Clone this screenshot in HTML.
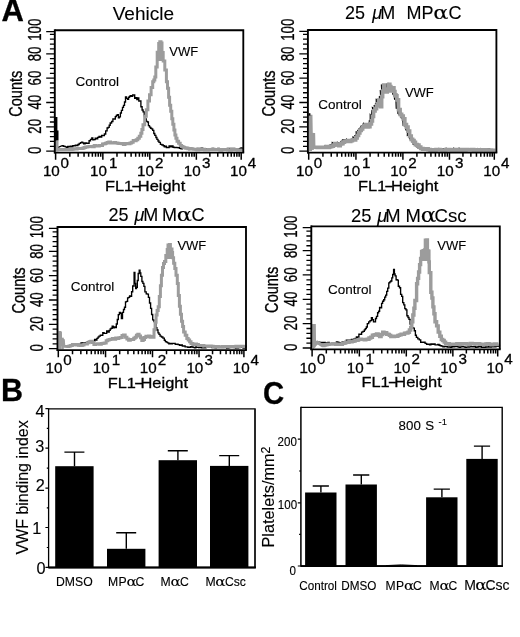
<!DOCTYPE html>
<html lang="en">
<head>
<meta charset="utf-8">
<title>Figure</title>
<style>
html,body{margin:0;padding:0;background:#fff;}
body{width:520px;height:637px;overflow:hidden;}
svg{display:block;}
svg text{font-family:"Liberation Sans", sans-serif;fill:#000;stroke:#000;stroke-width:0.3px;}
svg text.t{stroke-width:0.12px;}
svg text.t2{stroke-width:0.1px;}
</style>
</head>
<body>
<svg width="520" height="637" viewBox="0 0 520 637">
<rect width="520" height="637" fill="#fff"/>
<polyline points="56.0,147.0 58.2,147.4 62.2,145.6 63.2,145.6 63.2,146.2 64.3,146.2 64.3,146.4 65.3,146.4 65.3,146.8 66.6,146.8 66.6,147.2 67.8,147.2 67.8,146.4 69.1,146.4 69.1,146.8 70.4,146.8 70.4,146.2 71.6,146.2 71.6,146.7 72.8,146.7 72.8,145.6 74.1,145.6 74.1,145.9 75.3,145.9 75.3,145.2 76.5,145.2 76.5,145.6 77.9,145.6 77.9,144.5 79.2,144.5 79.2,143.3 80.6,143.3 80.6,142.6 81.6,142.6 81.6,142.2 82.7,142.2 82.7,142.9 83.7,142.9 83.7,143.7 85.1,143.7 85.1,143.0 86.4,143.0 86.4,143.2 87.8,143.2 87.8,143.3 89.1,143.3 89.1,140.7 90.5,140.7 90.5,139.4 91.8,139.4 91.8,137.8 92.8,137.8 92.8,139.8 93.9,139.8 93.9,139.6 95.2,139.6 95.2,138.1 96.5,138.1 96.5,138.7 97.7,138.7 97.7,137.4 99.0,137.4 99.0,136.4 100.3,136.4 100.3,137.0 101.7,137.0 101.7,135.3 103.0,135.3 103.0,135.6 104.4,135.6 104.4,134.0 105.7,134.0 105.7,130.8 107.1,130.8 107.1,128.0 108.1,128.0 108.1,127.4 109.2,127.4 109.2,125.2 110.2,125.2 110.2,123.0 111.6,123.0 111.6,121.5 112.9,121.5 112.9,118.9 114.3,118.9 114.3,119.0 115.3,119.0 115.3,116.6 116.3,116.6 116.3,115.3 117.3,115.3 117.3,114.7 118.4,114.7 118.4,117.7 119.4,117.7 119.4,116.8 120.4,116.8 120.4,113.0 121.4,113.0 121.4,110.4 122.5,110.4 122.5,107.3 123.5,107.3 123.5,105.4 124.5,105.4 124.5,102.0 125.5,102.0 125.5,96.9 126.5,96.9 126.5,98.4 127.6,98.4 127.6,99.4 128.6,99.4 128.6,97.2 129.6,97.2 129.6,96.2 130.6,96.2 130.6,95.7 131.6,95.7 131.6,96.2 132.7,96.2 132.7,94.8 133.7,94.8 133.7,95.0 134.7,95.0 134.7,98.3 135.7,98.3 135.7,97.7 136.8,97.7 136.8,99.5 137.8,99.5 137.8,98.0 138.8,98.0 138.8,101.1 139.8,101.1 139.8,100.8 140.9,100.8 140.9,106.7 142.1,106.7 142.1,110.0 143.1,110.0 143.1,111.8 144.2,111.8 144.2,115.9 145.3,115.9 145.3,118.9 146.3,118.9 146.3,121.4 147.4,121.4 147.4,122.0 148.4,122.0 148.4,125.6 149.5,125.6 149.5,127.1 150.6,127.1 150.6,128.2 151.6,128.2 151.6,128.8 152.7,128.8 152.7,130.4 153.8,130.4 153.8,133.5 154.8,133.5 154.8,135.4 155.9,135.4 155.9,137.5 156.9,137.5 156.9,139.3 158.0,139.3 158.0,141.0 159.0,141.0 159.0,142.3 160.4,142.3 160.4,144.3 161.9,144.3 161.9,145.0 163.3,145.0 163.3,145.7 164.3,145.7 164.3,146.9 165.4,146.9 165.4,146.1 166.4,146.1 166.4,147.5 167.7,147.5 167.7,147.5 169.1,147.5 169.1,146.0 170.4,146.0 170.4,146.9 171.7,146.9 171.7,145.9 173.0,145.9 173.0,147.2 174.3,147.2 174.3,147.6 175.7,147.6 175.7,147.5 177.0,147.5 177.0,147.6 178.3,147.6 178.3,147.7 179.7,147.7 179.7,148.4 181.0,148.4 181.0,148.7 182.3,148.7 182.3,148.1 183.6,148.1 183.6,148.1 184.9,148.1 184.9,148.6 186.2,148.6 186.2,148.2 187.4,148.2 187.4,148.3 188.7,148.3 188.7,149.6 190.0,149.6 190.0,149.2 191.4,149.2 191.4,149.2 192.9,149.2 192.9,149.4 194.3,149.4 194.3,149.5 195.7,149.5 195.7,149.4 197.1,149.4 197.1,148.4 198.6,148.4 198.6,148.3 200.0,148.3 200.0,148.7 201.3,148.7 201.3,148.2 202.7,148.2 202.7,149.0 204.0,149.0 204.0,149.3 205.4,149.3 205.4,149.3 206.8,149.3 206.8,149.0 208.1,149.0 208.1,149.1 209.5,149.1 209.5,149.4 210.9,149.4 210.9,148.8 212.2,148.8 212.2,148.4 213.6,148.4 213.6,148.7 215.0,148.7 215.0,148.7 216.4,148.7 216.4,149.3 217.8,149.3 217.8,148.5 219.2,148.5 219.2,149.6 220.6,149.6 220.6,149.9 222.0,149.9 222.0,149.7 223.3,149.7 223.3,149.3 224.7,149.3 224.7,149.6 226.0,149.6 226.0,148.7 227.3,148.7 227.3,148.3 228.7,148.3 228.7,149.3 230.0,149.3 230.0,148.5 231.2,148.5 231.2,148.5 232.4,148.5 232.4,148.7 233.6,148.7 233.6,148.4 234.8,148.4 234.8,149.3 236.0,149.3 236.0,149.4 237.3,149.4 237.3,149.4 238.7,149.4 238.7,148.8 240.0,148.8 240.0,148.3 241.0,148.3 241.0,147.9 242.0,147.9 242.0,148.4 243.0,148.4 243.0,149.2" fill="none" stroke="#000" stroke-width="1.35" stroke-linejoin="miter"/>
<polyline points="56.0,140.0 56.6,149.6 70.4,149.5 72.1,149.5 72.1,149.3 73.8,149.3 73.8,148.8 75.5,148.8 75.5,149.1 77.2,149.1 77.2,148.5 78.9,148.5 78.9,148.4 80.6,148.4 80.6,148.4 82.3,148.4 82.3,148.3 84.0,148.3 84.0,147.4 85.7,147.4 85.7,147.0 87.4,147.0 87.4,146.7 89.1,146.7 89.1,146.5 90.8,146.5 90.8,146.4 92.5,146.4 92.5,146.7 94.2,146.7 94.2,145.6 95.9,145.6 95.9,146.1 97.6,146.1 97.6,146.0 99.3,146.0 99.3,145.5 101.0,145.5 101.0,145.4 102.5,145.4 102.5,144.1 104.0,144.1 104.0,143.8 105.6,143.8 105.6,143.3 107.1,143.3 107.1,142.4 108.8,142.4 108.8,141.9 110.5,141.9 110.5,143.1 112.2,143.1 112.2,142.9 113.9,142.9 113.9,142.6 115.6,142.6 115.6,142.9 117.3,142.9 117.3,143.2 118.8,143.2 118.8,143.4 120.4,143.4 120.4,143.5 122.0,143.5 122.0,143.7 123.5,143.7 123.5,144.5 125.1,144.5 125.1,143.4 126.7,143.4 126.7,143.4 128.4,143.4 128.4,143.7 130.0,143.7 130.0,143.1 131.6,143.1 131.6,142.2 133.2,142.2 133.2,140.6 134.7,140.6 134.7,140.7 136.2,140.7 136.2,139.7 137.8,139.7 137.8,138.3 139.3,138.3 139.3,136.2 140.8,136.2 140.8,133.2 141.9,133.2 141.9,129.5 143.0,129.5 143.0,124.8 144.7,124.8 144.7,116.3 146.3,116.3 146.3,109.8 147.9,109.8 147.9,101.0 149.5,101.0 149.5,94.7 151.1,94.7 151.1,87.6 152.7,87.6 152.7,81.7 153.8,81.7 153.8,79.9 154.8,79.9 154.8,77.1 155.8,77.1 155.8,67.1 157.2,67.1 157.2,52.3 158.7,52.3 158.7,43.6 159.8,43.6 159.8,41.8 161.0,41.8 161.0,43.1 162.0,43.1 162.0,52.4 163.2,52.4 163.2,61.1 164.8,61.1 164.8,69.9 166.4,69.9 166.4,81.8 167.5,81.8 167.5,88.3 168.6,88.3 168.6,97.3 169.6,97.3 169.6,105.3 170.7,105.3 170.7,111.3 171.8,111.3 171.8,118.8 172.8,118.8 172.8,124.3 173.9,124.3 173.9,130.1 174.9,130.1 174.9,135.1 175.9,135.1 175.9,138.2 177.0,138.2 177.0,141.2 178.6,141.2 178.6,143.3 180.2,143.3 180.2,145.4 181.6,145.4 181.6,146.6 183.0,146.6 183.0,147.3 184.4,147.3 184.4,147.8 186.1,147.8 186.1,147.9 187.8,147.9 187.8,148.7 189.5,148.7 189.5,148.6 191.2,148.6 191.2,148.8 192.9,148.8 192.9,149.3 194.8,149.3 194.8,149.2 196.8,149.2 196.8,149.8 198.7,149.8 198.7,149.4 200.6,149.4 200.6,149.4 202.5,149.4 202.5,149.2 204.5,149.2 204.5,149.7 206.4,149.7 206.4,149.8 208.3,149.8 208.3,149.4 210.2,149.4 210.2,149.5 212.2,149.5 212.2,149.2 214.1,149.2 214.1,149.5 216.0,149.5 216.0,149.4 217.9,149.4 217.9,149.6 219.9,149.6 219.9,149.9 221.8,149.9 221.8,149.6 223.7,149.6 223.7,149.5 225.7,149.5 225.7,149.6 227.6,149.6 227.6,149.8 229.5,149.8 229.5,150.0 231.4,150.0 231.4,149.5 233.4,149.5 233.4,149.7 235.3,149.7 235.3,149.5 237.2,149.5 237.2,149.9 239.1,149.9 239.1,150.0 241.1,150.0 241.1,149.9 243.0,149.9 243.0,149.9" fill="none" stroke="#9c9c9c" stroke-width="3.0" stroke-linejoin="miter"/>
<polygon points="157.3,61 158,50 158.8,43.2 161,43.2 162,52 163.4,61" fill="#9c9c9c"/>
<rect x="54.2" y="117" width="3.2" height="24" fill="#000"/>
<rect x="54.2" y="130.5" width="4.3" height="10" fill="#000"/>
<rect x="55.6" y="140.4" width="2.9" height="11" fill="#9c9c9c"/>
<path d="M54.80 30.20H243.30V152.50" fill="none" stroke="#000" stroke-width="1.85"/>
<path d="M54.80 29.30V153.35" fill="none" stroke="#000" stroke-width="1.9"/>
<path d="M53.90 152.50H244.20" fill="none" stroke="#000" stroke-width="1.75"/>
<path d="M46.2 151.20H54.8M49.9 146.33H54.8M49.9 141.46H54.8M49.9 136.59H54.8M49.9 131.72H54.8M46.2 126.85H54.8M49.9 121.98H54.8M49.9 117.11H54.8M49.9 112.24H54.8M49.9 107.37H54.8M46.2 102.50H54.8M49.9 97.63H54.8M49.9 92.76H54.8M49.9 87.89H54.8M49.9 83.02H54.8M46.2 78.15H54.8M49.9 73.28H54.8M49.9 68.41H54.8M49.9 63.54H54.8M49.9 58.67H54.8M46.2 53.80H54.8M49.9 48.93H54.8M49.9 44.06H54.8M49.9 39.19H54.8M49.9 34.32H54.8M46.2 31.60H54.8" stroke="#000" stroke-width="1.3" fill="none"/>
<path d="M55.60 152.5V159.7M69.82 152.5V156.7M78.14 152.5V156.7M84.05 152.5V156.7M88.63 152.5V156.7M92.37 152.5V156.7M95.53 152.5V156.7M98.27 152.5V156.7M100.69 152.5V156.7M102.85 152.5V159.7M116.98 152.5V156.7M125.25 152.5V156.7M131.12 152.5V156.7M135.67 152.5V156.7M139.38 152.5V156.7M142.53 152.5V156.7M145.25 152.5V156.7M147.65 152.5V156.7M149.80 152.5V159.7M163.81 152.5V156.7M172.01 152.5V156.7M177.83 152.5V156.7M182.34 152.5V156.7M186.02 152.5V156.7M189.14 152.5V156.7M191.84 152.5V156.7M194.22 152.5V156.7M196.35 152.5V159.7M209.85 152.5V156.7M217.75 152.5V156.7M223.35 152.5V156.7M227.70 152.5V156.7M231.25 152.5V156.7M234.25 152.5V156.7M236.85 152.5V156.7M239.15 152.5V156.7M241.20 152.5V159.7" stroke="#000" stroke-width="1.5" fill="none"/>
<text transform="translate(40.7,150.4) rotate(-90) scale(0.73,1)" text-anchor="middle" font-size="18.2">0</text>
<text transform="translate(40.7,126.3) rotate(-90) scale(0.73,1)" text-anchor="middle" font-size="18.2">20</text>
<text transform="translate(40.7,102.2) rotate(-90) scale(0.73,1)" text-anchor="middle" font-size="18.2">40</text>
<text transform="translate(40.7,78.0) rotate(-90) scale(0.73,1)" text-anchor="middle" font-size="18.2">60</text>
<text transform="translate(40.7,53.9) rotate(-90) scale(0.73,1)" text-anchor="middle" font-size="18.2">80</text>
<text transform="translate(40.7,29.8) rotate(-90) scale(0.73,1)" text-anchor="middle" font-size="18.2">100</text>
<text transform="translate(21.8,93.7) rotate(-90) scale(0.82,1)" text-anchor="middle" font-size="17.8">Counts</text>
<text y="175.7" font-size="15.2"><tspan x="42.9">10</tspan><tspan x="60.6" y="167.5">0</tspan></text>
<text y="175.7" font-size="15.2"><tspan x="90.1">10</tspan><tspan x="109.0" y="167.5">1</tspan></text>
<text y="175.7" font-size="15.2"><tspan x="137.1">10</tspan><tspan x="155.1" y="167.5">2</tspan></text>
<text y="175.7" font-size="15.2"><tspan x="183.7">10</tspan><tspan x="201.9" y="167.5">3</tspan></text>
<text y="175.7" font-size="15.2"><tspan x="230.1">10</tspan><tspan x="247.8" y="167.5">4</tspan></text>
<text y="190.5" font-size="15"><tspan x="105.0" textLength="28.17" lengthAdjust="spacingAndGlyphs">FL1</tspan><tspan x="131.2" textLength="9.24" lengthAdjust="spacingAndGlyphs">-</tspan><tspan x="137.8" textLength="47.48" lengthAdjust="spacingAndGlyphs">Height</tspan></text>
<text x="75.5" y="86.2" font-size="13.5" class="t">Control</text>
<text x="169.3" y="56.3" font-size="13" class="t">VWF</text>
<text class="t2" x="112.7" y="19.5" font-size="19">Vehicle</text>
<polyline points="322.5,147.2 324.2,147.6 324.2,146.7 325.0,145.9 325.9,147.2 327.4,146.2 326.9,145.9 328.5,146.5 328.0,145.4 329.6,146.7 330.1,145.0 331.5,145.0 331.4,144.0 332.1,145.3 332.3,142.6 334.4,143.8 333.8,145.2 335.4,144.7 335.0,145.0 336.9,145.0 337.1,144.7 337.9,144.5 337.7,142.6 339.2,143.6 338.9,143.6 340.6,142.9 341.1,141.5 342.1,141.5 342.5,140.0 344.3,139.9 344.1,141.2 344.9,141.1 345.2,140.4 346.4,139.4 346.6,141.8 348.3,141.4 349.0,140.9 350.1,139.8 350.3,139.9 351.6,139.9 352.3,140.2 353.0,140.3 353.1,137.2 355.1,138.2 354.8,135.7 356.4,134.6 356.2,131.8 357.3,131.7 357.9,130.7 358.8,129.0 359.6,128.6 360.4,128.0 360.6,127.1 361.8,126.4 361.4,126.1 362.7,125.3 363.5,123.4 365.0,124.9 364.9,126.9 365.9,126.3 365.9,126.8 367.6,126.1 368.3,124.0 369.8,123.3 369.3,120.9 370.3,120.1 370.3,115.3 371.3,116.9 371.9,110.6 372.9,110.1 372.5,107.7 374.7,108.7 374.3,105.6 375.7,105.5 375.6,103.9 376.4,103.8 376.3,99.5 377.8,99.9 377.3,104.1 378.6,103.5 378.0,106.3 379.3,106.5 379.5,96.6 380.7,96.6 380.4,90.8 381.8,91.2 381.5,85.1 383.0,84.9 383.1,89.3 383.6,88.5 383.3,91.9 385.6,91.3 385.3,89.8 386.9,88.9 387.0,83.9 387.9,83.6 387.8,86.5 388.8,86.4 388.2,89.8 389.7,90.7 389.5,88.7 390.9,87.6 390.8,86.8 391.4,86.6 391.6,90.4 392.5,90.2 392.8,94.1 393.9,94.5 393.5,96.1 394.3,95.2 394.6,99.2 396.0,100.0 396.3,108.2 398.1,108.3 398.0,113.5 399.6,114.6 399.8,115.4 401.4,115.8 401.0,117.7 402.8,118.4 403.2,124.9 404.4,123.8 404.7,125.7 405.5,126.7 406.0,129.9 407.6,131.3 407.4,135.4 408.8,135.2 409.6,138.6 411.0,139.6 410.6,139.7 412.4,140.1 411.8,141.6 413.8,141.9 413.1,144.0 414.7,144.3 415.0,144.3 417.1,145.2 416.3,146.7 418.4,147.4 418.9,147.5 420.2,147.4 420.9,148.2 422.4,148.6 422.4,148.8 424.4,147.9 424.4,148.1 426.0,148.1 425.8,149.3 427.9,149.0 428.2,149.7 429.5,149.1 429.9,150.0 432.3,149.3 431.5,150.2 433.9,149.8 434.1,149.2 435.9,149.7 435.8,149.0 438.2,148.6 437.7,150.1 439.4,150.1 440.1,149.5 441.6,150.1 442.3,149.2 443.8,149.9 443.8,148.8 445.5,149.2 446.1,148.4 447.5,149.8 448.1,149.7 449.3,149.8 450.3,150.7 452.0,149.0 452.1,149.2 453.9,150.5 454.0,148.4 455.5,149.8 455.4,150.0 457.6,149.2 457.8,148.9 459.3,149.5 459.3,148.4 461.8,149.7 462.1,149.1 463.6,149.5 463.8,149.1 466.1,148.9 465.2,149.8 467.3,149.6 467.6,150.2 469.7,149.7 469.4,149.3 471.3,149.7 471.6,149.0 473.3,149.5 473.8,149.2 475.8,150.1 475.1,149.7 477.1,148.7 477.6,149.3 479.9,149.7 479.3,149.9 481.0,149.8 481.1,148.7 483.9,149.6 483.2,149.0 485.9,150.0 485.8,149.0 487.6,149.4 487.2,149.2 489.5,149.2 489.3,149.1 491.7,150.0 491.7,149.7 493.8,149.8 493.5,149.9" fill="none" stroke="#000" stroke-width="1.35" stroke-linejoin="miter"/>
<polyline points="310.6,114.8 311.2,149.0 313.3,133.0 313.6,147.0 316.3,147.4 324.5,147.3 326.0,147.3 326.0,146.5 327.6,146.5 327.6,147.4 329.1,147.4 329.1,146.9 330.6,146.9 330.6,146.4 332.0,146.4 332.0,146.1 333.3,146.1 333.3,145.2 334.7,145.2 334.7,143.6 336.1,143.6 336.1,144.8 337.4,144.8 337.4,144.7 338.8,144.7 338.8,145.6 340.2,145.6 340.2,143.9 341.5,143.9 341.5,143.7 342.9,143.7 342.9,142.1 344.4,142.1 344.4,141.3 345.9,141.3 345.9,141.1 347.5,141.1 347.5,140.7 349.0,140.7 349.0,141.5 350.7,141.5 350.7,140.6 352.4,140.6 352.4,139.9 354.1,139.9 354.1,140.0 355.6,140.0 355.6,137.9 357.1,137.9 357.1,135.5 358.5,135.5 358.5,132.9 359.8,132.9 359.8,130.3 361.2,130.3 361.2,129.0 362.6,129.0 362.6,127.0 363.9,127.0 363.9,125.8 365.3,125.8 365.3,124.6 366.9,124.6 366.9,126.9 368.4,126.9 368.4,126.7 369.9,126.7 369.9,123.9 371.4,123.9 371.4,120.9 372.4,120.9 372.4,116.5 373.5,116.5 373.5,110.9 375.0,110.9 375.0,108.6 376.5,108.6 376.5,105.6 377.6,105.6 377.6,103.9 378.6,103.9 378.6,100.0 379.6,100.0 379.6,103.8 380.6,103.8 380.6,106.7 381.6,106.7 381.6,96.6 382.6,96.6 382.6,91.1 383.7,91.1 383.7,85.0 384.7,85.0 384.7,89.0 385.7,89.0 385.7,91.8 387.2,91.8 387.2,89.9 388.8,89.9 388.8,84.3 389.8,84.3 389.8,86.5 390.8,86.5 390.8,90.9 391.9,90.9 391.9,88.9 392.9,88.9 392.9,87.8 393.9,87.8 393.9,91.5 394.9,91.5 394.9,94.8 395.9,94.8 395.9,95.9 396.9,95.9 396.9,99.9 398.5,99.9 398.5,109.6 400.1,109.6 400.1,114.3 401.6,114.3 401.6,116.0 403.2,116.0 403.2,118.8 404.8,118.8 404.8,124.6 406.4,124.6 406.4,127.1 408.0,127.1 408.0,131.1 409.6,131.1 409.6,136.0 411.2,136.0 411.2,139.4 412.6,139.4 412.6,140.6 414.0,140.6 414.0,142.4 415.4,142.4 415.4,144.6 417.2,144.6 417.2,145.1 418.9,145.1 418.9,147.1 420.7,147.1 420.7,148.5 422.6,148.5 422.6,149.1 424.4,149.1 424.4,149.1 426.2,149.1 426.2,148.9 428.1,148.9 428.1,149.7 430.1,149.7 430.1,150.1 432.1,150.1 432.1,149.8 434.0,149.8 434.0,150.2 436.0,150.2 436.0,149.5 438.0,149.5 438.0,149.7 440.0,149.7 440.0,150.0 442.0,150.0 442.0,150.1 444.0,150.1 444.0,150.3 445.9,150.3 445.9,149.6 447.9,149.6 447.9,149.7 449.9,149.7 449.9,149.9 451.9,149.9 451.9,150.3 453.9,150.3 453.9,150.2 455.9,150.2 455.9,149.6 457.8,149.6 457.8,150.3 459.8,150.3 459.8,150.2 461.8,150.2 461.8,149.7 463.8,149.7 463.8,150.3 465.8,150.3 465.8,149.6 467.7,149.6 467.7,149.9 469.7,149.9 469.7,150.0 471.7,150.0 471.7,149.7 473.7,149.7 473.7,150.2 475.7,150.2 475.7,150.3 477.7,150.3 477.7,149.9 479.6,149.9 479.6,150.3 481.6,150.3 481.6,149.9 483.6,149.9 483.6,149.8 485.6,149.8 485.6,150.2 487.6,150.2 487.6,150.2 489.6,150.2 489.6,150.0 491.5,150.0 491.5,150.3 493.5,150.3 493.5,150.3 495.5,150.3 495.5,150.3" fill="none" stroke="#9c9c9c" stroke-width="3.7" stroke-linejoin="miter"/>
<rect x="308.6" y="113.2" width="1.8" height="3" fill="#000"/>
<rect x="309" y="115.6" width="3" height="35.5" fill="#9c9c9c"/>
<rect x="311.9" y="132.9" width="2" height="17" fill="#9c9c9c"/>
<path d="M307.90 30.00H496.40V152.50" fill="none" stroke="#000" stroke-width="1.85"/>
<path d="M307.90 29.10V153.35" fill="none" stroke="#000" stroke-width="1.9"/>
<path d="M307.00 152.50H497.30" fill="none" stroke="#000" stroke-width="1.75"/>
<path d="M299.3 151.20H307.9M303.0 146.33H307.9M303.0 141.46H307.9M303.0 136.59H307.9M303.0 131.72H307.9M299.3 126.85H307.9M303.0 121.98H307.9M303.0 117.11H307.9M303.0 112.24H307.9M303.0 107.37H307.9M299.3 102.50H307.9M303.0 97.63H307.9M303.0 92.76H307.9M303.0 87.89H307.9M303.0 83.02H307.9M299.3 78.15H307.9M303.0 73.28H307.9M303.0 68.41H307.9M303.0 63.54H307.9M303.0 58.67H307.9M299.3 53.80H307.9M303.0 48.93H307.9M303.0 44.06H307.9M303.0 39.19H307.9M303.0 34.32H307.9M299.3 31.40H307.9" stroke="#000" stroke-width="1.3" fill="none"/>
<path d="M308.70 152.5V159.7M322.92 152.5V156.7M331.24 152.5V156.7M337.15 152.5V156.7M341.73 152.5V156.7M345.47 152.5V156.7M348.63 152.5V156.7M351.37 152.5V156.7M353.79 152.5V156.7M355.95 152.5V159.7M370.08 152.5V156.7M378.35 152.5V156.7M384.22 152.5V156.7M388.77 152.5V156.7M392.48 152.5V156.7M395.63 152.5V156.7M398.35 152.5V156.7M400.75 152.5V156.7M402.90 152.5V159.7M416.91 152.5V156.7M425.11 152.5V156.7M430.93 152.5V156.7M435.44 152.5V156.7M439.12 152.5V156.7M442.24 152.5V156.7M444.94 152.5V156.7M447.32 152.5V156.7M449.45 152.5V159.7M462.95 152.5V156.7M470.85 152.5V156.7M476.45 152.5V156.7M480.80 152.5V156.7M484.35 152.5V156.7M487.35 152.5V156.7M489.95 152.5V156.7M492.25 152.5V156.7M494.30 152.5V159.7" stroke="#000" stroke-width="1.5" fill="none"/>
<text transform="translate(293.8,150.4) rotate(-90) scale(0.73,1)" text-anchor="middle" font-size="18.2">0</text>
<text transform="translate(293.8,126.3) rotate(-90) scale(0.73,1)" text-anchor="middle" font-size="18.2">20</text>
<text transform="translate(293.8,102.2) rotate(-90) scale(0.73,1)" text-anchor="middle" font-size="18.2">40</text>
<text transform="translate(293.8,78.0) rotate(-90) scale(0.73,1)" text-anchor="middle" font-size="18.2">60</text>
<text transform="translate(293.8,53.9) rotate(-90) scale(0.73,1)" text-anchor="middle" font-size="18.2">80</text>
<text transform="translate(293.8,29.8) rotate(-90) scale(0.73,1)" text-anchor="middle" font-size="18.2">100</text>
<text transform="translate(274.9,93.5) rotate(-90) scale(0.82,1)" text-anchor="middle" font-size="17.8">Counts</text>
<text y="175.7" font-size="15.2"><tspan x="296.0">10</tspan><tspan x="313.7" y="167.5">0</tspan></text>
<text y="175.7" font-size="15.2"><tspan x="343.2">10</tspan><tspan x="362.1" y="167.5">1</tspan></text>
<text y="175.7" font-size="15.2"><tspan x="390.2">10</tspan><tspan x="408.2" y="167.5">2</tspan></text>
<text y="175.7" font-size="15.2"><tspan x="436.8">10</tspan><tspan x="454.9" y="167.5">3</tspan></text>
<text y="175.7" font-size="15.2"><tspan x="483.2">10</tspan><tspan x="500.9" y="167.5">4</tspan></text>
<text y="190.5" font-size="15"><tspan x="358.1" textLength="28.17" lengthAdjust="spacingAndGlyphs">FL1</tspan><tspan x="384.3" textLength="9.24" lengthAdjust="spacingAndGlyphs">-</tspan><tspan x="390.9" textLength="47.48" lengthAdjust="spacingAndGlyphs">Height</tspan></text>
<text x="318.2" y="109.1" font-size="13.5" class="t">Control</text>
<text x="404.9" y="96.9" font-size="13" class="t">VWF</text>
<text y="18.90" font-size="18.00" class="t2"><tspan x="345.00">25</tspan> <tspan x="372.30" font-style="italic">μ</tspan><tspan x="380.20">M</tspan> <tspan x="406.40">M</tspan><tspan x="421.60">P</tspan><tspan x="433.17" font-size="19.40" textLength="15.19" lengthAdjust="spacingAndGlyphs" style="font-family:'DejaVu Serif','DejaVu Sans',serif;stroke-width:0.12px">α</tspan><tspan x="448.60">C</tspan></text>
<polyline points="77.0,345.6 78.2,345.6 78.2,345.0 79.4,345.0 79.4,344.9 80.6,344.9 80.6,343.1 82.1,343.1 82.1,342.7 83.5,342.7 83.5,342.9 85.0,342.9 85.0,342.6 86.4,342.6 86.4,342.4 87.9,342.4 87.9,341.6 89.3,341.6 89.3,341.5 90.8,341.5 90.8,341.1 92.1,341.1 92.1,341.4 93.3,341.4 93.3,341.3 94.6,341.3 94.6,339.5 95.9,339.5 95.9,340.1 96.9,340.1 96.9,338.4 98.0,338.4 98.0,337.1 99.0,337.1 99.0,336.1 100.3,336.1 100.3,335.2 101.5,335.2 101.5,335.2 102.8,335.2 102.8,332.7 104.1,332.7 104.1,333.3 105.4,333.3 105.4,333.3 106.7,333.3 106.7,331.0 107.9,331.0 107.9,332.1 109.2,332.1 109.2,330.4 110.2,330.4 110.2,328.9 111.2,328.9 111.2,328.2 112.2,328.2 112.2,326.1 113.2,326.1 113.2,327.8 114.3,327.8 114.3,327.0 115.3,327.0 115.3,327.6 116.3,327.6 116.3,324.0 117.3,324.0 117.3,319.5 118.3,319.5 118.3,314.6 119.4,314.6 119.4,312.3 120.4,312.3 120.4,313.2 121.4,313.2 121.4,318.5 122.5,318.5 122.5,312.4 123.5,312.4 123.5,309.5 124.5,309.5 124.5,307.2 125.5,307.2 125.5,301.9 126.5,301.9 126.5,301.3 127.6,301.3 127.6,297.9 128.6,297.9 128.6,297.4 129.6,297.4 129.6,296.0 130.6,296.0 130.6,296.3 131.6,296.3 131.6,291.7 132.7,291.7 132.7,286.0 134.1,286.0 134.1,272.5 134.9,272.5 134.9,283.3 135.7,283.3 135.7,288.6 136.5,288.6 136.5,287.2 137.3,287.2 137.3,280.5 138.2,280.5 138.2,273.5 139.2,273.5 139.2,270.1 140.0,270.1 140.0,272.8 140.8,272.8 140.8,276.4 141.9,276.4 141.9,281.5 142.9,281.5 142.9,283.3 143.9,283.3 143.9,286.4 144.9,286.4 144.9,291.8 146.2,291.8 146.2,293.9 147.4,293.9 147.4,294.1 148.4,294.1 148.4,297.4 149.5,297.4 149.5,303.0 150.6,303.0 150.6,308.3 151.6,308.3 151.6,314.5 152.7,314.5 152.7,319.9 153.8,319.9 153.8,321.5 154.8,321.5 154.8,323.0 155.9,323.0 155.9,327.6 156.9,327.6 156.9,330.0 158.0,330.0 158.0,332.8 159.0,332.8 159.0,334.4 160.1,334.4 160.1,336.1 161.5,336.1 161.5,337.0 162.9,337.0 162.9,338.1 164.3,338.1 164.3,340.2 165.4,340.2 165.4,341.6 166.4,341.6 166.4,342.1 167.5,342.1 167.5,342.8 168.8,342.8 168.8,343.8 170.0,343.8 170.0,343.3 171.3,343.3 171.3,343.7 172.5,343.7 172.5,343.4 173.8,343.4 173.8,343.4 175.2,343.4 175.2,344.4 176.7,344.4 176.7,344.2 178.1,344.2 178.1,344.6 179.5,344.6 179.5,345.4 180.9,345.4 180.9,344.9 182.3,344.9 182.3,346.0 183.7,346.0 183.7,345.9 185.1,345.9 185.1,346.8 186.5,346.8 186.5,346.9 187.8,346.9 187.8,347.2 189.2,347.2 189.2,347.2 190.5,347.2 190.5,346.6 191.8,346.6 191.8,347.0 193.1,347.0 193.1,347.4 194.4,347.4 194.4,347.8 195.8,347.8 195.8,346.9 197.1,346.9 197.1,347.4 198.6,347.4 198.6,347.6 200.1,347.6 200.1,347.2 201.5,347.2 201.5,347.8 203.0,347.8 203.0,347.8 204.5,347.8 204.5,347.7 206.0,347.7 206.0,347.1 207.5,347.1 207.5,347.4 209.0,347.4 209.0,347.3 210.4,347.3 210.4,347.4 211.9,347.4 211.9,347.5 213.4,347.5 213.4,347.0 214.9,347.0 214.9,347.9 216.4,347.9 216.4,347.4 217.8,347.4 217.8,347.5 219.3,347.5 219.3,347.0 220.8,347.0 220.8,347.5 222.3,347.5 222.3,347.6 223.8,347.6 223.8,347.5 225.3,347.5 225.3,347.0 226.7,347.0 226.7,348.0 228.2,348.0 228.2,347.9 229.7,347.9 229.7,347.2 231.2,347.2 231.2,347.0 232.7,347.0 232.7,347.2 234.1,347.2 234.1,347.5 235.6,347.5 235.6,348.0 237.1,348.0 237.1,348.0 238.6,348.0 238.6,347.1 240.1,347.1 240.1,347.0 241.6,347.0 241.6,347.2 243.0,347.2 243.0,348.0 244.5,348.0 244.5,347.0 246.0,347.0 246.0,347.5" fill="none" stroke="#000" stroke-width="1.35" stroke-linejoin="miter"/>
<polyline points="60.4,332.0 60.8,346.0 63.3,339.3 63.8,346.2 67.3,346.5 69.0,346.5 69.0,346.0 70.7,346.0 70.7,345.4 72.4,345.4 72.4,344.4 74.0,344.4 74.0,344.5 75.7,344.5 75.7,345.0 77.3,345.0 77.3,344.6 79.0,344.6 79.0,345.2 80.6,345.2 80.6,345.6 82.3,345.6 82.3,345.1 84.0,345.1 84.0,344.1 85.7,344.1 85.7,343.9 87.4,343.9 87.4,342.7 89.1,342.7 89.1,341.8 90.8,341.8 90.8,341.2 92.3,341.2 92.3,342.4 93.9,342.4 93.9,344.5 95.7,344.5 95.7,344.0 97.6,344.0 97.6,343.8 99.4,343.8 99.4,344.3 101.3,344.3 101.3,343.4 103.1,343.4 103.1,343.3 104.6,343.3 104.6,342.9 106.2,342.9 106.2,340.8 107.7,340.8 107.7,340.0 109.2,340.0 109.2,339.4 110.8,339.4 110.8,339.3 112.4,339.3 112.4,338.4 114.1,338.4 114.1,339.2 115.7,339.2 115.7,338.0 117.3,338.0 117.3,338.4 118.8,338.4 118.8,337.8 120.4,337.8 120.4,337.4 122.0,337.4 122.0,335.6 123.5,335.6 123.5,335.1 125.2,335.1 125.2,337.3 126.9,337.3 126.9,339.1 128.6,339.1 128.6,340.3 130.3,340.3 130.3,339.6 132.0,339.6 132.0,339.6 133.7,339.6 133.7,338.2 135.1,338.2 135.1,337.3 136.4,337.3 136.4,335.2 137.8,335.2 137.8,334.3 139.1,334.3 139.1,336.0 140.5,336.0 140.5,337.8 141.8,337.8 141.8,340.4 143.2,340.4 143.2,339.5 144.5,339.5 144.5,337.5 145.9,337.5 145.9,336.2 147.2,336.2 147.2,336.6 148.5,336.6 148.5,336.0 149.9,336.0 149.9,337.3 151.3,337.3 151.3,336.5 152.7,336.5 152.7,337.3 154.0,337.3 154.0,329.7 155.1,329.7 155.1,322.3 156.1,322.3 156.1,315.1 157.1,315.1 157.1,310.6 158.2,310.6 158.2,306.7 159.3,306.7 159.3,296.5 160.4,296.5 160.4,285.7 161.4,285.7 161.4,275.3 162.5,275.3 162.5,267.5 163.5,267.5 163.5,263.5 164.5,263.5 164.5,261.6 165.8,261.6 165.8,255.5 167.2,255.5 167.2,249.4 168.0,249.4 168.0,245.1 169.4,245.1 169.4,244.6 170.4,244.6 170.4,248.9 172.0,248.9 172.0,252.6 172.6,252.6 172.6,257.8 173.6,257.8 173.6,263.2 174.8,263.2 174.8,268.5 176.0,268.5 176.0,275.2 177.3,275.2 177.3,283.4 178.3,283.4 178.3,295.5 179.4,295.5 179.4,306.2 180.4,306.2 180.4,314.2 181.5,314.2 181.5,321.3 182.6,321.3 182.6,326.6 183.6,326.6 183.6,331.9 185.2,331.9 185.2,335.3 186.8,335.3 186.8,338.6 188.2,338.6 188.2,339.9 189.6,339.9 189.6,341.7 191.0,341.7 191.0,343.5 192.8,343.5 192.8,344.5 194.7,344.5 194.7,344.0 196.5,344.0 196.5,344.5 198.4,344.5 198.4,345.4 200.2,345.4 200.2,345.4 202.1,345.4 202.1,345.6 203.9,345.6 203.9,346.1 205.8,346.1 205.8,345.9 207.6,345.9 207.6,346.4 209.5,346.4 209.5,346.1 211.3,346.1 211.3,346.2 213.2,346.2 213.2,346.7 215.1,346.7 215.1,346.4 217.0,346.4 217.0,346.4 218.8,346.4 218.8,346.8 220.7,346.8 220.7,346.7 222.6,346.7 222.6,346.5 224.5,346.5 224.5,346.6 226.4,346.6 226.4,346.5 228.3,346.5 228.3,346.7 230.1,346.7 230.1,346.4 232.0,346.4 232.0,346.9 233.9,346.9 233.9,346.6 235.8,346.6 235.8,346.3 237.7,346.3 237.7,347.0 239.6,347.0 239.6,346.3 241.4,346.3 241.4,346.3 243.3,346.3 243.3,346.4 245.2,346.4 245.2,346.5" fill="none" stroke="#9c9c9c" stroke-width="3.0" stroke-linejoin="miter"/>
<rect x="166.2" y="249.5" width="6.8" height="9.5" fill="#9c9c9c"/>
<rect x="58.4" y="331" width="3.1" height="18.2" fill="#9c9c9c"/>
<rect x="61.4" y="337.7" width="2.4" height="11.5" fill="#9c9c9c"/>
<path d="M57.50 227.00H246.00V350.00" fill="none" stroke="#000" stroke-width="1.85"/>
<path d="M57.50 226.10V350.85" fill="none" stroke="#000" stroke-width="1.9"/>
<path d="M56.60 350.00H246.90" fill="none" stroke="#000" stroke-width="1.75"/>
<path d="M48.9 348.70H57.5M52.6 343.83H57.5M52.6 338.96H57.5M52.6 334.09H57.5M52.6 329.22H57.5M48.9 324.35H57.5M52.6 319.48H57.5M52.6 314.61H57.5M52.6 309.74H57.5M52.6 304.87H57.5M48.9 300.00H57.5M52.6 295.13H57.5M52.6 290.26H57.5M52.6 285.39H57.5M52.6 280.52H57.5M48.9 275.65H57.5M52.6 270.78H57.5M52.6 265.91H57.5M52.6 261.04H57.5M52.6 256.17H57.5M48.9 251.30H57.5M52.6 246.43H57.5M52.6 241.56H57.5M52.6 236.69H57.5M52.6 231.82H57.5M48.9 228.40H57.5" stroke="#000" stroke-width="1.3" fill="none"/>
<path d="M58.30 350.0V357.2M72.52 350.0V354.2M80.84 350.0V354.2M86.75 350.0V354.2M91.33 350.0V354.2M95.07 350.0V354.2M98.23 350.0V354.2M100.97 350.0V354.2M103.39 350.0V354.2M105.55 350.0V357.2M119.68 350.0V354.2M127.95 350.0V354.2M133.82 350.0V354.2M138.37 350.0V354.2M142.08 350.0V354.2M145.23 350.0V354.2M147.95 350.0V354.2M150.35 350.0V354.2M152.50 350.0V357.2M166.51 350.0V354.2M174.71 350.0V354.2M180.53 350.0V354.2M185.04 350.0V354.2M188.72 350.0V354.2M191.84 350.0V354.2M194.54 350.0V354.2M196.92 350.0V354.2M199.05 350.0V357.2M212.55 350.0V354.2M220.45 350.0V354.2M226.05 350.0V354.2M230.40 350.0V354.2M233.95 350.0V354.2M236.95 350.0V354.2M239.55 350.0V354.2M241.85 350.0V354.2M243.90 350.0V357.2" stroke="#000" stroke-width="1.5" fill="none"/>
<text transform="translate(43.4,347.9) rotate(-90) scale(0.73,1)" text-anchor="middle" font-size="18.2">0</text>
<text transform="translate(43.4,323.8) rotate(-90) scale(0.73,1)" text-anchor="middle" font-size="18.2">20</text>
<text transform="translate(43.4,299.7) rotate(-90) scale(0.73,1)" text-anchor="middle" font-size="18.2">40</text>
<text transform="translate(43.4,275.5) rotate(-90) scale(0.73,1)" text-anchor="middle" font-size="18.2">60</text>
<text transform="translate(43.4,251.4) rotate(-90) scale(0.73,1)" text-anchor="middle" font-size="18.2">80</text>
<text transform="translate(43.4,227.3) rotate(-90) scale(0.73,1)" text-anchor="middle" font-size="18.2">100</text>
<text transform="translate(24.5,290.5) rotate(-90) scale(0.82,1)" text-anchor="middle" font-size="17.8">Counts</text>
<text y="373.2" font-size="15.2"><tspan x="45.6">10</tspan><tspan x="63.3" y="365.0">0</tspan></text>
<text y="373.2" font-size="15.2"><tspan x="92.8">10</tspan><tspan x="111.8" y="365.0">1</tspan></text>
<text y="373.2" font-size="15.2"><tspan x="139.8">10</tspan><tspan x="157.8" y="365.0">2</tspan></text>
<text y="373.2" font-size="15.2"><tspan x="186.4">10</tspan><tspan x="204.6" y="365.0">3</tspan></text>
<text y="373.2" font-size="15.2"><tspan x="232.8">10</tspan><tspan x="250.5" y="365.0">4</tspan></text>
<text y="388.0" font-size="15"><tspan x="107.7" textLength="28.17" lengthAdjust="spacingAndGlyphs">FL1</tspan><tspan x="133.9" textLength="9.24" lengthAdjust="spacingAndGlyphs">-</tspan><tspan x="140.5" textLength="47.48" lengthAdjust="spacingAndGlyphs">Height</tspan></text>
<text x="70.8" y="290.8" font-size="13.5" class="t">Control</text>
<text x="177.4" y="249.9" font-size="13" class="t">VWF</text>
<text y="221.20" font-size="18.00" class="t2"><tspan x="108.60">25</tspan> <tspan x="134.50" font-style="italic">μ</tspan><tspan x="143.20">M</tspan> <tspan x="162.00">M</tspan><tspan x="176.67" font-size="19.40" textLength="15.19" lengthAdjust="spacingAndGlyphs" style="font-family:'DejaVu Serif','DejaVu Sans',serif;stroke-width:0.12px">α</tspan><tspan x="191.40">C</tspan></text>
<polyline points="313.5,344.0 318.4,342.2 319.8,342.2 319.8,343.3 321.1,343.3 321.1,342.5 322.5,342.5 322.5,342.8 323.8,342.8 323.8,342.3 325.2,342.3 325.2,342.7 326.5,342.7 326.5,343.1 327.9,343.1 327.9,342.5 329.2,342.5 329.2,343.7 330.6,343.7 330.6,343.6 332.1,343.6 332.1,343.7 333.5,343.7 333.5,343.1 335.0,343.1 335.0,343.7 336.4,343.7 336.4,342.0 337.9,342.0 337.9,342.4 339.3,342.4 339.3,343.3 340.8,343.3 340.8,342.7 342.2,342.7 342.2,341.9 343.5,341.9 343.5,342.0 344.9,342.0 344.9,342.3 346.3,342.3 346.3,340.1 347.6,340.1 347.6,340.3 349.0,340.3 349.0,340.1 350.2,340.1 350.2,340.7 351.4,340.7 351.4,339.5 352.7,339.5 352.7,339.9 353.9,339.9 353.9,339.0 355.1,339.0 355.1,338.4 356.4,338.4 356.4,336.9 357.6,336.9 357.6,337.3 358.9,337.3 358.9,334.1 360.2,334.1 360.2,334.4 361.6,334.4 361.6,332.1 362.9,332.1 362.9,331.3 364.3,331.3 364.3,329.8 365.3,329.8 365.3,328.6 366.3,328.6 366.3,327.0 367.3,327.0 367.3,323.6 368.7,323.6 368.7,321.8 370.0,321.8 370.0,320.6 371.4,320.6 371.4,317.6 372.4,317.6 372.4,319.7 373.5,319.7 373.5,321.8 374.5,321.8 374.5,321.9 375.5,321.9 375.5,318.5 376.5,318.5 376.5,316.4 377.6,316.4 377.6,312.7 378.6,312.7 378.6,311.2 379.6,311.2 379.6,307.4 380.6,307.4 380.6,307.9 381.6,307.9 381.6,303.3 382.6,303.3 382.6,301.2 383.7,301.2 383.7,299.7 384.7,299.7 384.7,297.1 385.7,297.1 385.7,295.1 386.7,295.1 386.7,291.3 387.7,291.3 387.7,288.1 388.8,288.1 388.8,282.8 389.8,282.8 389.8,281.9 390.8,281.9 390.8,281.0 391.8,281.0 391.8,277.9 392.7,277.9 392.7,274.5 393.6,274.5 393.6,269.5 394.4,269.5 394.4,273.9 395.1,273.9 395.1,275.9 396.1,275.9 396.1,279.7 397.2,279.7 397.2,280.1 398.3,280.1 398.3,286.2 399.5,286.2 399.5,287.7 400.6,287.7 400.6,294.4 401.7,294.4 401.7,296.4 402.7,296.4 402.7,302.6 403.8,302.6 403.8,304.9 404.8,304.9 404.8,308.6 405.9,308.6 405.9,309.9 406.9,309.9 406.9,315.7 408.0,315.7 408.0,317.5 409.0,317.5 409.0,319.3 410.1,319.3 410.1,324.0 411.2,324.0 411.2,324.2 412.2,324.2 412.2,327.7 413.3,327.7 413.3,328.2 414.3,328.2 414.3,330.7 415.4,330.7 415.4,335.2 416.4,335.2 416.4,337.3 417.8,337.3 417.8,338.8 419.3,338.8 419.3,339.8 420.7,339.8 420.7,342.2 422.2,342.2 422.2,342.3 423.7,342.3 423.7,342.2 425.1,342.2 425.1,343.4 426.6,343.4 426.6,344.2 428.1,344.2 428.1,344.2 429.5,344.2 429.5,344.8 430.9,344.8 430.9,343.8 432.3,343.8 432.3,344.3 433.7,344.3 433.7,344.0 435.1,344.0 435.1,344.8 436.5,344.8 436.5,344.8 437.8,344.8 437.8,344.5 439.1,344.5 439.1,345.2 440.3,345.2 440.3,345.7 441.6,345.7 441.6,346.1 442.9,346.1 442.9,346.9 444.4,346.9 444.4,346.5 445.9,346.5 445.9,346.6 447.3,346.6 447.3,347.1 448.8,347.1 448.8,346.8 450.3,346.8 450.3,347.3 451.8,347.3 451.8,346.6 453.2,346.6 453.2,346.8 454.7,346.8 454.7,346.4 456.2,346.4 456.2,346.5 457.7,346.5 457.7,346.9 459.1,346.9 459.1,347.2 460.6,347.2 460.6,346.8 462.1,346.8 462.1,346.5 463.6,346.5 463.6,346.9 465.0,346.9 465.0,347.2 466.5,347.2 466.5,347.1 468.0,347.1 468.0,347.0 469.5,347.0 469.5,346.9 470.9,346.9 470.9,346.6 472.4,346.6 472.4,346.7 473.9,346.7 473.9,346.3 475.4,346.3 475.4,347.2 476.9,347.2 476.9,347.0 478.3,347.0 478.3,346.7 479.8,346.7 479.8,346.3 481.3,346.3 481.3,347.3 482.8,347.3 482.8,347.2 484.2,347.2 484.2,347.2 485.7,347.2 485.7,347.0 487.2,347.0 487.2,347.0 488.7,347.0 488.7,346.4 490.1,346.4 490.1,347.0 491.6,347.0 491.6,346.3 493.1,346.3 493.1,346.9 494.6,346.9 494.6,346.7 496.0,346.7 496.0,346.4 497.5,346.4 497.5,346.4 499.0,346.4 499.0,346.8" fill="none" stroke="#000" stroke-width="1.35" stroke-linejoin="miter"/>
<polyline points="314.0,324.0 314.4,345.5 317.3,342.4 322.4,345.5 324.0,345.5 324.0,345.0 325.7,345.0 325.7,344.6 327.3,344.6 327.3,344.3 329.0,344.3 329.0,344.1 330.6,344.1 330.6,344.1 332.3,344.1 332.3,343.7 334.0,343.7 334.0,343.9 335.7,343.9 335.7,344.3 337.4,344.3 337.4,344.4 339.1,344.4 339.1,344.1 340.8,344.1 340.8,344.4 342.4,344.4 342.4,343.4 344.1,343.4 344.1,343.0 345.7,343.0 345.7,342.3 347.4,342.3 347.4,342.3 349.0,342.3 349.0,341.5 350.5,341.5 350.5,341.7 352.1,341.7 352.1,341.4 353.6,341.4 353.6,341.1 355.1,341.1 355.1,340.2 356.6,340.2 356.6,340.3 358.1,340.3 358.1,339.6 359.7,339.6 359.7,339.3 361.2,339.3 361.2,339.4 362.7,339.4 362.7,339.4 364.2,339.4 364.2,339.7 365.8,339.7 365.8,339.4 367.3,339.4 367.3,339.2 369.0,339.2 369.0,338.0 370.7,338.0 370.7,337.2 372.4,337.2 372.4,335.3 373.8,335.3 373.8,334.9 375.1,334.9 375.1,334.7 376.5,334.7 376.5,333.9 378.1,333.9 378.1,335.3 379.6,335.3 379.6,336.5 381.1,336.5 381.1,334.5 382.7,334.5 382.7,332.1 384.0,332.1 384.0,333.2 385.4,333.2 385.4,332.8 386.7,332.8 386.7,334.2 388.1,334.2 388.1,334.4 389.4,334.4 389.4,335.4 390.8,335.4 390.8,336.5 392.6,336.5 392.6,336.6 394.5,336.6 394.5,336.1 396.3,336.1 396.3,336.4 397.9,336.4 397.9,335.4 399.5,335.4 399.5,334.9 401.1,334.9 401.1,334.1 402.7,334.1 402.7,334.2 404.5,334.2 404.5,333.1 406.2,333.1 406.2,333.0 408.0,333.0 408.0,332.3 409.4,332.3 409.4,330.0 410.7,330.0 410.7,327.5 411.8,327.5 411.8,321.9 412.8,321.9 412.8,315.0 413.9,315.0 413.9,308.2 414.9,308.2 414.9,300.5 416.6,300.5 416.6,283.7 417.6,283.7 417.6,278.4 418.6,278.4 418.6,272.0 419.6,272.0 419.6,264.6 420.6,264.6 420.6,258.5 421.6,258.5 421.6,251.4 423.1,251.4 423.1,250.8 424.6,250.8 424.6,249.9 425.4,249.9 425.4,240.1 426.9,240.1 426.9,239.9 427.4,239.9 427.4,251.0 428.6,251.0 428.6,251.5 428.9,251.5 428.9,261.9 429.3,261.9 429.3,272.6 430.8,272.6 430.8,292.3 431.9,292.3 431.9,298.0 432.9,298.0 432.9,306.9 433.9,306.9 433.9,313.7 435.0,313.7 435.0,321.7 436.6,321.7 436.6,325.9 438.2,325.9 438.2,332.1 439.8,332.1 439.8,336.2 441.3,336.2 441.3,339.5 442.7,339.5 442.7,340.5 444.2,340.5 444.2,342.1 445.6,342.1 445.6,343.9 447.5,343.9 447.5,343.8 449.3,343.8 449.3,344.3 451.1,344.3 451.1,344.3 453.0,344.3 453.0,344.2 454.9,344.2 454.9,344.3 456.8,344.3 456.8,343.8 458.8,343.8 458.8,344.4 460.7,344.4 460.7,343.8 462.6,343.8 462.6,343.6 464.5,343.6 464.5,343.7 466.4,343.7 466.4,344.0 468.3,344.0 468.3,344.3 470.3,344.3 470.3,343.5 472.2,343.5 472.2,343.9 474.1,343.9 474.1,343.8 476.0,343.8 476.0,344.1 477.9,344.1 477.9,343.7 479.7,343.7 479.7,344.3 481.6,344.3 481.6,344.4 483.5,344.4 483.5,344.4 485.4,344.4 485.4,344.0 487.2,344.0 487.2,343.8 489.1,343.8 489.1,344.2 491.0,344.2 491.0,344.7 492.9,344.7 492.9,344.2 494.7,344.2 494.7,344.0 496.6,344.0 496.6,344.6 498.5,344.6 498.5,344.4" fill="none" stroke="#9c9c9c" stroke-width="3.4" stroke-linejoin="miter"/>
<rect x="421" y="250.2" width="8.4" height="10.8" fill="#9c9c9c"/>
<rect x="312.2" y="324" width="3.2" height="23.6" fill="#9c9c9c"/>
<path d="M311.30 226.30H499.80V349.30" fill="none" stroke="#000" stroke-width="1.85"/>
<path d="M311.30 225.40V350.15" fill="none" stroke="#000" stroke-width="1.9"/>
<path d="M310.40 349.30H500.70" fill="none" stroke="#000" stroke-width="1.75"/>
<path d="M302.7 348.00H311.3M306.4 343.13H311.3M306.4 338.26H311.3M306.4 333.39H311.3M306.4 328.52H311.3M302.7 323.65H311.3M306.4 318.78H311.3M306.4 313.91H311.3M306.4 309.04H311.3M306.4 304.17H311.3M302.7 299.30H311.3M306.4 294.43H311.3M306.4 289.56H311.3M306.4 284.69H311.3M306.4 279.82H311.3M302.7 274.95H311.3M306.4 270.08H311.3M306.4 265.21H311.3M306.4 260.34H311.3M306.4 255.47H311.3M302.7 250.60H311.3M306.4 245.73H311.3M306.4 240.86H311.3M306.4 235.99H311.3M306.4 231.12H311.3M302.7 227.70H311.3" stroke="#000" stroke-width="1.3" fill="none"/>
<path d="M312.10 349.3V356.5M326.32 349.3V353.5M334.64 349.3V353.5M340.55 349.3V353.5M345.13 349.3V353.5M348.87 349.3V353.5M352.03 349.3V353.5M354.77 349.3V353.5M357.19 349.3V353.5M359.35 349.3V356.5M373.48 349.3V353.5M381.75 349.3V353.5M387.62 349.3V353.5M392.17 349.3V353.5M395.88 349.3V353.5M399.03 349.3V353.5M401.75 349.3V353.5M404.15 349.3V353.5M406.30 349.3V356.5M420.31 349.3V353.5M428.51 349.3V353.5M434.33 349.3V353.5M438.84 349.3V353.5M442.52 349.3V353.5M445.64 349.3V353.5M448.34 349.3V353.5M450.72 349.3V353.5M452.85 349.3V356.5M466.35 349.3V353.5M474.25 349.3V353.5M479.85 349.3V353.5M484.20 349.3V353.5M487.75 349.3V353.5M490.75 349.3V353.5M493.35 349.3V353.5M495.65 349.3V353.5M497.70 349.3V356.5" stroke="#000" stroke-width="1.5" fill="none"/>
<text transform="translate(297.2,347.2) rotate(-90) scale(0.73,1)" text-anchor="middle" font-size="18.2">0</text>
<text transform="translate(297.2,323.1) rotate(-90) scale(0.73,1)" text-anchor="middle" font-size="18.2">20</text>
<text transform="translate(297.2,299.0) rotate(-90) scale(0.73,1)" text-anchor="middle" font-size="18.2">40</text>
<text transform="translate(297.2,274.8) rotate(-90) scale(0.73,1)" text-anchor="middle" font-size="18.2">60</text>
<text transform="translate(297.2,250.7) rotate(-90) scale(0.73,1)" text-anchor="middle" font-size="18.2">80</text>
<text transform="translate(297.2,226.6) rotate(-90) scale(0.73,1)" text-anchor="middle" font-size="18.2">100</text>
<text transform="translate(278.3,289.8) rotate(-90) scale(0.82,1)" text-anchor="middle" font-size="17.8">Counts</text>
<text y="372.5" font-size="15.2"><tspan x="299.4">10</tspan><tspan x="317.1" y="364.3">0</tspan></text>
<text y="372.5" font-size="15.2"><tspan x="346.7">10</tspan><tspan x="365.6" y="364.3">1</tspan></text>
<text y="372.5" font-size="15.2"><tspan x="393.6">10</tspan><tspan x="411.6" y="364.3">2</tspan></text>
<text y="372.5" font-size="15.2"><tspan x="440.2">10</tspan><tspan x="458.4" y="364.3">3</tspan></text>
<text y="372.5" font-size="15.2"><tspan x="486.6">10</tspan><tspan x="504.3" y="364.3">4</tspan></text>
<text y="387.3" font-size="15"><tspan x="361.5" textLength="28.17" lengthAdjust="spacingAndGlyphs">FL1</tspan><tspan x="387.7" textLength="9.24" lengthAdjust="spacingAndGlyphs">-</tspan><tspan x="394.3" textLength="47.48" lengthAdjust="spacingAndGlyphs">Height</tspan></text>
<text x="328.0" y="293.8" font-size="13.5" class="t">Control</text>
<text x="437.3" y="249.9" font-size="13" class="t">VWF</text>
<text y="221.60" font-size="18.40" class="t2"><tspan x="351.00">25</tspan> <tspan x="377.20" font-style="italic">μ</tspan><tspan x="385.20">M</tspan> <tspan x="405.60">M</tspan><tspan x="420.85" font-size="19.83" textLength="15.53" lengthAdjust="spacingAndGlyphs" style="font-family:'DejaVu Serif','DejaVu Sans',serif;stroke-width:0.12px">α</tspan><tspan x="434.60" font-size="18.60">Csc</tspan></text>
<text x="1.6" y="20.9" font-size="31" font-weight="bold">A</text>
<text x="1.0" y="401" font-size="30.5" font-weight="bold">B</text>
<text transform="translate(262.9,404) scale(0.93,1)" font-size="31.5" font-weight="bold">C</text>
<rect x="55.2" y="466.2" width="38.4" height="101.3" fill="#000"/>
<path d="M74.5 466.2V452.1M64.4 452.1H84.4" stroke="#000" stroke-width="1.4" fill="none"/>
<rect x="107.0" y="548.8" width="38.4" height="18.7" fill="#000"/>
<path d="M126.3 548.8V532.8M116.2 532.8H136.2" stroke="#000" stroke-width="1.4" fill="none"/>
<rect x="158.6" y="460.2" width="38.4" height="107.3" fill="#000"/>
<path d="M177.9 460.2V450.8M167.8 450.8H187.8" stroke="#000" stroke-width="1.4" fill="none"/>
<rect x="210.0" y="465.9" width="38.4" height="101.6" fill="#000"/>
<path d="M229.3 465.9V455.6M219.2 455.6H239.2" stroke="#000" stroke-width="1.4" fill="none"/>
<path d="M48.60 408.80H255.00V567.50" fill="none" stroke="#000" stroke-width="1.3"/>
<path d="M255.00 408.80V567.50" fill="none" stroke="#222" stroke-width="1.7"/>
<path d="M48.60 408.20V567.50H255.80" fill="none" stroke="#000" stroke-width="1.3"/>
<path d="M48.60 567.50H255.80" fill="none" stroke="#000" stroke-width="1.9"/>
<path d="M45.4 567.4H48.6M46.8 547.5H48.6M45.4 527.5H48.6M46.8 507.8H48.6M45.4 488.1H48.6M46.8 468.1H48.6M45.4 448.2H48.6M46.8 428.4H48.6M45.4 408.7H48.6" stroke="#000" stroke-width="1.2" fill="none"/>
<text class="t" x="45.5" y="573.7" font-size="16.3" text-anchor="end">0</text>
<text class="t" x="41.4" y="533.8" font-size="16.3" text-anchor="end">1</text>
<text class="t" x="44.8" y="490.8" font-size="16.3" text-anchor="end">2</text>
<text class="t" x="44.4" y="451.7" font-size="16.3" text-anchor="end">3</text>
<text class="t" x="44.6" y="416.5" font-size="16.3" text-anchor="end">4</text>
<text class="t" transform="translate(28.4,554.6) rotate(-90)" font-size="16">VWF binding index</text>
<text y="586.10" font-size="13.00" class="t"><tspan x="56.00" textLength="36.66" lengthAdjust="spacingAndGlyphs">DMSO</tspan></text>
<text y="586.10" font-size="13.00" class="t"><tspan x="108.10" textLength="10.18" lengthAdjust="spacingAndGlyphs">M</tspan><tspan x="118.40" textLength="8.15" lengthAdjust="spacingAndGlyphs">P</tspan><tspan x="126.53" font-size="13.26" textLength="10.38" lengthAdjust="spacingAndGlyphs" style="font-family:'DejaVu Serif','DejaVu Sans',serif;stroke-width:0.12px">α</tspan><tspan x="135.60" textLength="8.82" lengthAdjust="spacingAndGlyphs">C</tspan></text>
<text y="586.10" font-size="13.00" class="t"><tspan x="160.60" textLength="10.18" lengthAdjust="spacingAndGlyphs">M</tspan><tspan x="170.63" font-size="13.26" textLength="10.38" lengthAdjust="spacingAndGlyphs" style="font-family:'DejaVu Serif','DejaVu Sans',serif;stroke-width:0.12px">α</tspan><tspan x="179.90" textLength="8.82" lengthAdjust="spacingAndGlyphs">C</tspan></text>
<text y="586.10" font-size="13.00" class="t"><tspan x="205.60" textLength="10.18" lengthAdjust="spacingAndGlyphs">M</tspan><tspan x="215.33" font-size="13.26" textLength="10.38" lengthAdjust="spacingAndGlyphs" style="font-family:'DejaVu Serif','DejaVu Sans',serif;stroke-width:0.12px">α</tspan><tspan x="224.90" textLength="21.04" lengthAdjust="spacingAndGlyphs">Csc</tspan></text>
<rect x="305.1" y="492.5" width="31.4" height="73.6" fill="#000"/>
<path d="M320.9 492.5V486.0M312.7 486.0H328.9" stroke="#000" stroke-width="1.4" fill="none"/>
<rect x="345.5" y="484.5" width="31.4" height="81.6" fill="#000"/>
<path d="M361.3 484.5V475.0M353.1 475.0H369.3" stroke="#000" stroke-width="1.4" fill="none"/>
<rect x="426.1" y="497.3" width="31.4" height="68.8" fill="#000"/>
<path d="M441.9 497.3V489.1M433.7 489.1H449.9" stroke="#000" stroke-width="1.4" fill="none"/>
<rect x="466.3" y="458.9" width="31.4" height="107.2" fill="#000"/>
<path d="M482.1 458.9V446.1M473.9 446.1H490.1" stroke="#000" stroke-width="1.4" fill="none"/>
<path d="M386 565.6 Q401 564.2 417 565.6" stroke="#000" stroke-width="1" fill="none"/>
<path d="M300.90 407.40H502.20V566.10" fill="none" stroke="#000" stroke-width="1.4"/>
<path d="M300.90 406.70V566.10H502.90" fill="none" stroke="#000" stroke-width="1.5"/>
<path d="M300.90 566.10H502.90" fill="none" stroke="#000" stroke-width="1.9"/>
<path d="M297.8 566.0H300.9M297.8 502.8H300.9M297.8 439.2H300.9M299.1 534.4H300.9M299.1 471.0H300.9" stroke="#000" stroke-width="1.2" fill="none"/>
<text class="t" x="296.0" y="574.8" font-size="12.2" text-anchor="end" textLength="6.45" lengthAdjust="spacingAndGlyphs">0</text>
<text class="t" x="297.2" y="508.9" font-size="12.2" text-anchor="end" textLength="19.34" lengthAdjust="spacingAndGlyphs">100</text>
<text class="t" x="296.9" y="445.9" font-size="12.2" text-anchor="end" textLength="19.34" lengthAdjust="spacingAndGlyphs">200</text>
<text class="t" transform="translate(274.3,547.5) rotate(-90)" font-size="16.3">Platelets/mm<tspan dy="-4.6" font-size="12.3">2</tspan></text>
<text class="t" x="398.6" y="429.8" font-size="13.3" word-spacing="0.7">800 S <tspan x="438.6" y="425.2" font-size="9.4">-1</tspan></text>
<text y="590.30" font-size="13.00" class="t"><tspan x="299.20" textLength="37.72" lengthAdjust="spacingAndGlyphs">Control</tspan></text>
<text y="590.30" font-size="13.00" class="t"><tspan x="341.30" textLength="35.10" lengthAdjust="spacingAndGlyphs">DMSO</tspan></text>
<text y="590.30" font-size="12.10" class="t"><tspan x="385.40">M</tspan><tspan x="396.10">P</tspan><tspan x="403.94" font-size="13.04" textLength="10.21" lengthAdjust="spacingAndGlyphs" style="font-family:'DejaVu Serif','DejaVu Sans',serif;stroke-width:0.12px">α</tspan><tspan x="413.10">C</tspan></text>
<text y="590.30" font-size="12.10" class="t"><tspan x="429.50">M</tspan><tspan x="439.44" font-size="13.04" textLength="10.21" lengthAdjust="spacingAndGlyphs" style="font-family:'DejaVu Serif','DejaVu Sans',serif;stroke-width:0.12px">α</tspan><tspan x="448.60">C</tspan></text>
<text y="590.30" font-size="14.00" class="t"><tspan x="464.30">M</tspan><tspan x="475.15" font-size="14.66" textLength="11.48" lengthAdjust="spacingAndGlyphs" style="font-family:'DejaVu Serif','DejaVu Sans',serif;stroke-width:0.12px">α</tspan><tspan x="485.50">Csc</tspan></text>
</svg>
</body>
</html>
